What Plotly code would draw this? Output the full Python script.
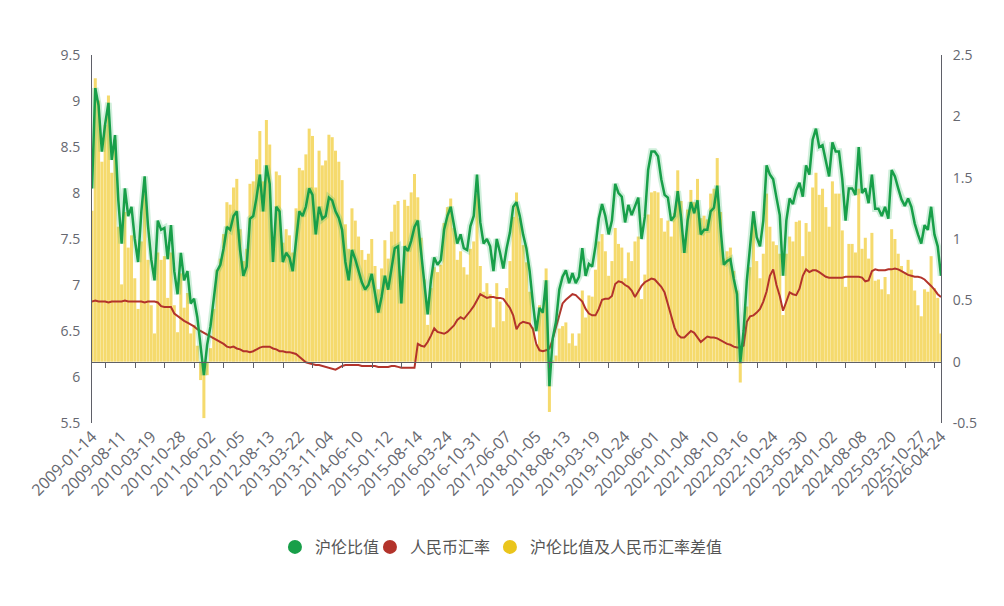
import numpy as np
import pandas as pd
import plotly.graph_objects as go

# x-axis label dates (category axis, evenly spaced labels)
label_dates = ["2009-01-14", "2009-08-11", "2010-03-19", "2010-10-28", "2011-06-02",
               "2012-01-05", "2012-08-13", "2013-03-22", "2013-11-04", "2014-06-10",
               "2015-01-12", "2015-08-14", "2016-03-24", "2016-10-31", "2017-06-07",
               "2018-01-05", "2018-08-13", "2019-03-19", "2019-10-24", "2020-06-01",
               "2021-01-04", "2021-08-10", "2022-03-16", "2022-10-24", "2023-05-30",
               "2024-01-02", "2024-08-08", "2025-03-20", "2025-10-27", "2026-04-24"]
# number of sampled observations between consecutive labels
sub_steps = [9] * 28 + [6]

# 沪伦比值 (left axis)
ratio = [8.05, 9.14, 8.95, 8.45, 8.75, 8.98, 8.36, 8.63, 7.92, 7.45,
         8.05, 7.75, 7.85, 7.5, 7.25, 7.8, 8.18, 7.65, 7.28, 7.05,
         7.7, 7.6, 7.62, 7.28, 7.65, 7.15, 6.9, 7.35, 7.05, 7.15,
         6.8, 6.85, 6.65, 6.35, 6.02, 6.35, 6.55, 6.85, 7.15, 7.22,
         7.4, 7.63, 7.6, 7.75, 7.8, 7.38, 7.1, 7.2, 7.72, 7.75,
         7.95, 8.2, 7.8, 8.3, 8.1, 7.25, 7.85, 7.8, 7.25, 7.35,
         7.3, 7.15, 7.5, 7.8, 7.75, 7.85, 8.05, 7.98, 7.55, 7.85,
         7.72, 7.75, 7.95, 7.92, 7.8, 7.73, 7.6, 7.25, 7.05, 7.38,
         7.28, 7.15, 7.03, 6.95, 7.0, 7.12, 6.9, 6.7, 6.87, 7.1,
         6.95, 7.18, 7.4, 7.42, 6.8, 7.42, 7.37, 7.48, 7.63, 7.7,
         7.35, 7.0, 6.68, 7.05, 7.3, 7.22, 7.27, 7.6, 7.75, 7.85,
         7.65, 7.45, 7.55, 7.4, 7.38, 7.64, 7.75, 8.2, 7.68, 7.45,
         7.5, 7.42, 7.15, 7.5, 7.35, 7.18, 7.4, 7.57, 7.85, 7.9,
         7.75, 7.55, 7.4, 7.15, 6.8, 6.5, 6.75, 6.7, 7.05, 5.9,
         6.42, 6.6, 6.95, 7.09, 7.16, 7.02, 7.13, 7.02, 7.09, 7.4,
         7.1, 7.23, 7.2, 7.42, 7.72, 7.88, 7.75, 7.55, 7.7, 8.1,
         8.0, 7.96, 7.68, 7.87, 7.76, 7.85, 7.95, 7.5, 7.74, 8.25,
         8.45, 8.45, 8.4, 8.15, 7.98, 7.95, 7.7, 7.75, 8.02, 7.74,
         7.35, 7.7, 7.9, 7.78, 7.92, 7.55, 7.6, 7.6, 7.8, 7.84,
         8.08, 7.62, 7.22, 7.26, 7.28, 7.07, 6.9, 6.15, 6.5, 7.05,
         7.43, 7.8, 7.52, 7.42, 7.7, 8.3, 8.2, 8.15, 7.95, 7.76,
         7.1, 7.7, 7.94, 7.88, 8.03, 8.11, 7.96, 8.3, 8.2, 8.58,
         8.7, 8.5, 8.52, 8.35, 8.18, 8.55, 8.45, 8.45, 8.15, 7.7,
         8.05, 8.05, 7.98, 8.5, 8.0, 8.05, 7.89, 8.2, 7.83, 7.83,
         7.75, 7.85, 7.72, 8.25, 8.18, 8.05, 7.93, 7.86, 7.94, 7.85,
         7.67, 7.55, 7.45, 7.65, 7.6, 7.85, 7.55, 7.42, 7.1]

# 人民币汇率 (left axis)
rate = [6.82, 6.83, 6.82, 6.82, 6.82, 6.81, 6.82, 6.82, 6.82, 6.82,
        6.83, 6.82, 6.82, 6.82, 6.82, 6.82, 6.81, 6.82, 6.82, 6.82,
        6.81, 6.77, 6.76, 6.76, 6.76, 6.69, 6.66, 6.63, 6.61, 6.59,
        6.57, 6.55, 6.52, 6.50, 6.48, 6.46, 6.44, 6.42, 6.40, 6.38,
        6.36, 6.33, 6.32, 6.33, 6.31, 6.30, 6.28, 6.28, 6.27, 6.28,
        6.30, 6.32, 6.33, 6.33, 6.33, 6.31, 6.30, 6.28, 6.28, 6.27,
        6.27, 6.26, 6.25, 6.22, 6.19, 6.16, 6.15, 6.14, 6.13, 6.13,
        6.12, 6.11, 6.10, 6.09, 6.08, 6.10, 6.12, 6.13, 6.13, 6.13,
        6.13, 6.13, 6.12, 6.12, 6.12, 6.12, 6.12, 6.11, 6.11, 6.11,
        6.11, 6.12, 6.12, 6.11, 6.10, 6.10, 6.10, 6.10, 6.10, 6.36,
        6.34, 6.33, 6.38, 6.45, 6.53, 6.49, 6.48, 6.47, 6.49, 6.52,
        6.56, 6.62, 6.65, 6.63, 6.67, 6.72, 6.77, 6.83, 6.90, 6.88,
        6.86, 6.87, 6.87, 6.86, 6.86, 6.85, 6.80, 6.75, 6.67, 6.52,
        6.58, 6.60, 6.59, 6.58, 6.52, 6.36, 6.29, 6.28, 6.29, 6.31,
        6.41, 6.55, 6.68, 6.80, 6.84, 6.87, 6.90, 6.89, 6.86, 6.82,
        6.74, 6.69, 6.67, 6.67, 6.74, 6.84, 6.85, 6.85, 6.88, 7.01,
        7.04, 7.03, 7.00, 6.98, 6.94, 6.87, 6.93, 6.99, 7.03, 7.05,
        7.07, 7.06, 7.02, 6.98, 6.92, 6.80, 6.68, 6.54, 6.46, 6.43,
        6.43, 6.46, 6.50, 6.48, 6.43, 6.38, 6.41, 6.44, 6.43, 6.43,
        6.42, 6.40, 6.38, 6.36, 6.35, 6.33, 6.32, 6.32, 6.34, 6.60,
        6.66, 6.67, 6.70, 6.74, 6.82, 6.93, 7.10, 7.17, 7.00, 6.88,
        6.72, 6.82, 6.92, 6.90, 6.89, 6.96, 7.10, 7.17, 7.14, 7.16,
        7.16, 7.14, 7.11, 7.09, 7.08, 7.08, 7.08, 7.08, 7.08, 7.09,
        7.09, 7.09, 7.09, 7.09, 7.08, 7.04, 7.05, 7.15, 7.17, 7.16,
        7.16, 7.16, 7.17, 7.17, 7.18, 7.17, 7.15, 7.13, 7.11, 7.10,
        7.09, 7.09, 7.08, 7.06, 7.03, 6.99, 6.95, 6.90, 6.87]

series_names = ["沪伦比值", "人民币汇率", "沪伦比值及人民币汇率差值"]
GREEN, RED, YELLOW = "#189F49", "#B3332B", "#EAC51C"

# categories (dates of sampled observations)
cats = []
for i in range(len(label_dates) - 1):
    rng = pd.date_range(label_dates[i], label_dates[i + 1], periods=sub_steps[i] + 1)[:-1]
    cats += [d.strftime("%Y-%m-%d") for d in rng]
cats.append(label_dates[-1])
assert len(cats) == len(ratio) == len(rate), (len(cats), len(ratio), len(rate))
n = len(cats)

# difference series (ratio minus exchange rate), right axis
diff = np.round(np.array(ratio) - np.array(rate), 3)

AX = "#5F6068"
TICKFONT = dict(family="Open Sans, Noto Sans CJK SC, sans-serif", size=14, color="#666870")
XTICKFONT = dict(family="Open Sans, Noto Sans CJK SC, sans-serif", size=16, color="#666870")
LEGFONT = dict(family="Noto Sans CJK SC, sans-serif", size=16, color="#555")

fig = go.Figure()
fig.add_trace(go.Bar(x=cats, y=diff, xaxis="x", yaxis="y",
                     marker=dict(color="rgba(240,200,40,0.68)", line=dict(width=0)),
                     showlegend=False, name=series_names[2]))
fig.add_trace(go.Scatter(x=[0, n - 1], y=[None, None], xaxis="x2", yaxis="y",
                         mode="lines", showlegend=False, hoverinfo="skip"))
fig.add_trace(go.Scatter(x=cats, y=rate, xaxis="x", yaxis="y2", mode="lines",
                         line=dict(color=RED, width=2), showlegend=False, name=series_names[1]))
fig.add_trace(go.Scatter(x=cats, y=ratio, xaxis="x", yaxis="y2", mode="lines",
                         line=dict(color="rgba(40,180,90,0.22)", width=6.5),
                         showlegend=False, hoverinfo="skip"))
fig.add_trace(go.Scatter(x=cats, y=ratio, xaxis="x", yaxis="y2", mode="lines",
                         line=dict(color=GREEN, width=2.5), showlegend=False, name=series_names[0]))
legend_ids = ["legend", "legend2", "legend3"]
for nm, col, lg in zip(series_names, [GREEN, RED, YELLOW], legend_ids):
    fig.add_trace(go.Scatter(x=[None], y=[None], xaxis="x", yaxis="y2", mode="markers",
                             marker=dict(size=14, color=col, symbol="circle"), name=nm,
                             legend=lg))

right_ticks = [-0.5, 0, 0.5, 1, 1.5, 2, 2.5]
left_ticks = [5.5, 6, 6.5, 7, 7.5, 8, 8.5, 9, 9.5]

legend_common = dict(orientation="h", xanchor="left", y=-0.337, yanchor="middle",
                     font=LEGFONT, itemwidth=30, bgcolor="rgba(0,0,0,0)")

# the page body has an 8px margin, so the figure is 8px smaller in each direction
fig.update_layout(
    width=996, height=598,
    margin=dict(l=84, r=63, t=47, b=183, autoexpand=False),
    paper_bgcolor="white", plot_bgcolor="white",
    bargap=0.08,
    xaxis=dict(type="category", range=[0, n - 1], tickmode="array",
               tickvals=label_dates, ticktext=label_dates, tickangle=-45,
               showline=False, ticks="", showgrid=False, zeroline=False,
               tickfont=XTICKFONT),
    xaxis2=dict(overlaying="x", anchor="free", position=1 / 6, range=[0, n - 1],
                showline=True, linecolor=AX, linewidth=1, ticks="outside", ticklen=5,
                tickcolor=AX, tickvals=[9 * i + 4.1 for i in range(29)],
                showticklabels=False, showgrid=False, zeroline=False),
    yaxis=dict(side="right", range=[-0.5, 2.5], tickmode="array", tickvals=right_ticks,
               ticktext=[f"{v:g}" for v in right_ticks], showline=True, linecolor=AX,
               showgrid=False, zeroline=False, ticks="", tickfont=TICKFONT,
               ticklabelstandoff=8),
    yaxis2=dict(overlaying="y", side="left", range=[5.5, 9.5], tickmode="array",
                tickvals=left_ticks, ticktext=[f"{v:g}" for v in left_ticks],
                showline=True, linecolor=AX, showgrid=False, zeroline=False, ticks="",
                tickfont=TICKFONT, ticklabelstandoff=8),
    legend=dict(x=0.2155, **legend_common),
    legend2=dict(x=0.3274, **legend_common),
    legend3=dict(x=0.4687, **legend_common),
)

fig.write_html("out.html")
